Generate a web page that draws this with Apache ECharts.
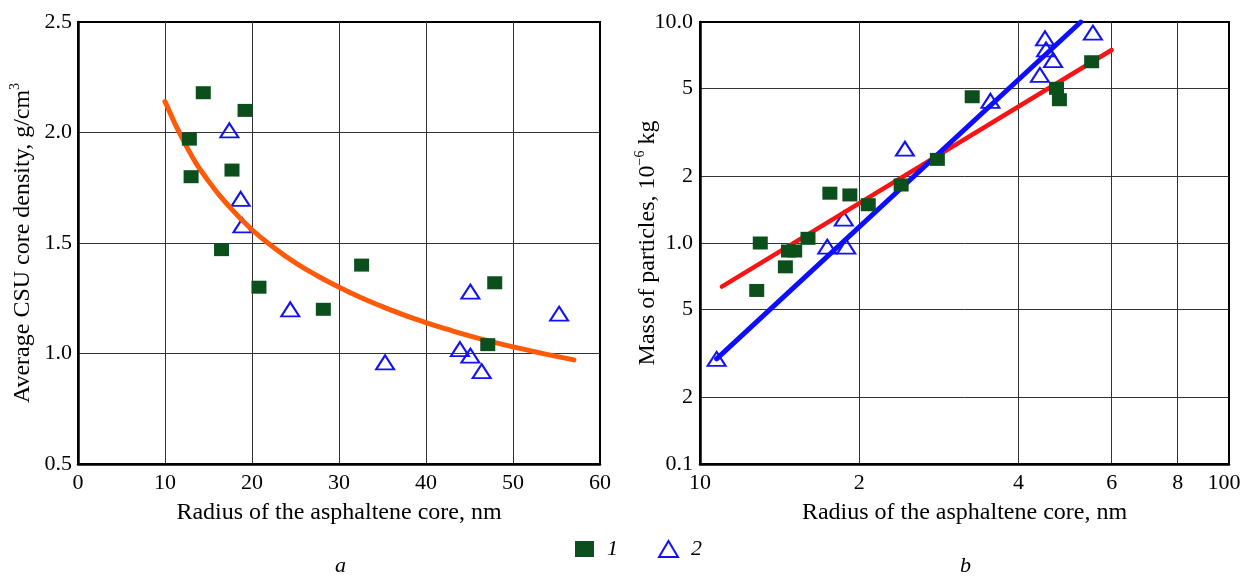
<!DOCTYPE html>
<html>
<head>
<meta charset="utf-8">
<title>CSU core density and particle mass vs asphaltene core radius</title>
<script src="https://cdn.jsdelivr.net/npm/echarts@6/dist/echarts.min.js"></script>
<style>
html, body { margin: 0; padding: 0; background: #fff; }
#chart { width: 1242px; height: 577px; }
</style>
</head>
<body>
<div id="chart"></div>
<script>
// panel a: average CSU core density (g/cm3) vs radius of the asphaltene core (nm)
const densityType1 = [
    [14.4, 2.18], [19.2, 2.10], [12.8, 1.97], [13.0, 1.80], [17.7, 1.83],
    [16.5, 1.47], [32.6, 1.40], [20.8, 1.30], [47.9, 1.32], [28.2, 1.20], [47.1, 1.04]
];
const densityType2 = [
    [17.4, 2.01], [18.7, 1.70], [18.9, 1.58], [45.1, 1.28], [24.4, 1.20],
    [35.3, 0.96], [43.9, 1.02], [45.1, 0.99], [46.4, 0.92], [55.3, 1.18]
];
// points
const densityFit = [
    [10, 2.14], [12.5, 1.935], [15, 1.78], [17.5, 1.66], [20, 1.56], [22.5, 1.48],
    [25, 1.41], [27.5, 1.352], [30, 1.30], [32.5, 1.253], [35, 1.212], [37.5, 1.174],
    [40, 1.14], [42.5, 1.109], [45, 1.08], [47.5, 1.054], [50, 1.03], [52.5, 1.008],
    [55, 0.987], [57, 0.971]
];

// panel b: mass of particles (1e-6 kg) vs radius, log-log
const massType1 = [
    [1.30, 1.00], [1.28, 0.61], [1.45, 0.78], [1.47, 0.92], [1.51, 0.92],
    [1.60, 1.05], [1.76, 1.68], [1.92, 1.65], [2.08, 1.49], [2.40, 1.83],
    [2.81, 2.39], [3.27, 4.59], [4.72, 5.01], [4.78, 4.45], [5.50, 6.61]
];
const massType2 = [
    [4.49, 8.44], [4.51, 7.52], [4.65, 6.73], [4.39, 5.76], [5.53, 8.95],
    [3.54, 4.40], [2.44, 2.67], [1.87, 1.29], [1.74, 0.962], [1.89, 0.962], [1.075, 0.299]
];
const massFit1 = [[1.10, 0.635], [6.0, 7.47]];
const massFit2 = [[1.075, 0.299], [5.245, 10.0]];

const massTicks = [0.1, 0.2, 0.5, 1, 2, 5, 10];
const massTickLabels = ['0.1', '2', '5', '1.0', '2', '5', '10.0'];
const radiusTicksB = [1, 2, 4, 6, 8, 10];
const radiusTickLabelsB = ['10', '2', '4', '6', '8', '{end|100}'];

const serif = 'Liberation Serif';
const green = '#0a4f1c';
const blue = '#1212f5';

function lookup(ticks, labels) {
    return function (v) {
        for (let i = 0; i < ticks.length; i++) {
            if (Math.abs(v - ticks[i]) < ticks[i] * 1e-6) return labels[i];
        }
        return '';
    };
}

const tickText = { fontFamily: serif, fontSize: 22, color: '#000' };
const nameText = {
    fontFamily: serif, fontSize: 24, color: '#000',
    rich: {
        t: { fontFamily: serif, fontSize: 24, color: '#000', lineHeight: 30 },
        sup: { fontFamily: serif, fontSize: 14, color: '#000', lineHeight: 16, verticalAlign: 'top' }
    }
};
const splitLine = { show: true, showMinLine: false, showMaxLine: false, lineStyle: { color: '#333', width: 1 } };
const axisLine = { show: true, lineStyle: { color: '#000', width: 2.5 } };
const triangleStyle = { color: 'rgba(0,0,0,0)', borderColor: blue, borderWidth: 2, opacity: 1 };
const squareStyle = { color: green, opacity: 1 };

const chart = echarts.init(document.getElementById('chart'));
const option = {
    animation: false,
    textStyle: { fontFamily: serif },
    title: [
        { text: 'a', left: 335, top: 555, padding: 0,
          textStyle: { fontFamily: serif, fontStyle: 'italic', fontWeight: 'normal', fontSize: 22, color: '#000' } },
        { text: 'b', left: 960, top: 555, padding: 0,
          textStyle: { fontFamily: serif, fontStyle: 'italic', fontWeight: 'normal', fontSize: 22, color: '#000' } }
    ],
    legend: {
        left: 575, top: 538, padding: 0,
        itemWidth: 19, itemHeight: 16, itemGap: 40,
        textStyle: { fontFamily: serif, fontStyle: 'italic', fontSize: 22, color: '#000', padding: [0, 0, 0, 8] },
        data: [
            { name: '1', icon: 'rect', itemStyle: { color: green, opacity: 1 } },
            { name: '2', icon: 'triangle', itemStyle: triangleStyle }
        ]
    },
    grid: [
        { left: 78, top: 22, width: 522, height: 442, outerBoundsMode: 'none',
          show: true, borderColor: '#000', borderWidth: 2 },
        { left: 700, top: 22, width: 529, height: 442, outerBoundsMode: 'none',
          show: true, borderColor: '#000', borderWidth: 2 }
    ],
    xAxis: [
        {
            type: 'value', gridIndex: 0, min: 0, max: 60, interval: 10,
            axisLine: axisLine, axisTick: { show: false }, splitLine: splitLine,
            axisLabel: Object.assign({ margin: 8 }, tickText),
            name: 'Radius of the asphaltene core, nm', nameLocation: 'middle', nameGap: 37,
            nameMoveOverlap: false, nameTextStyle: nameText
        },
        {
            type: 'log', logBase: 10, gridIndex: 1, min: 1, max: 10,
            axisLine: axisLine, axisTick: { show: false, customValues: radiusTicksB }, splitLine: splitLine,
            axisLabel: Object.assign({ margin: 8, customValues: radiusTicksB,
                formatter: lookup(radiusTicksB, radiusTickLabelsB),
                rich: { end: { fontFamily: serif, fontSize: 22, color: '#000', padding: [0, 10, 0, 0] } } }, tickText),
            name: 'Radius of the asphaltene core, nm', nameLocation: 'middle', nameGap: 37,
            nameMoveOverlap: false, nameTextStyle: nameText
        }
    ],
    yAxis: [
        {
            type: 'value', gridIndex: 0, min: 0.5, max: 2.5, interval: 0.5,
            axisLine: axisLine, axisTick: { show: false }, splitLine: splitLine,
            axisLabel: Object.assign({ margin: 6, formatter: v => v.toFixed(1) }, tickText),
            name: '{t|Average CSU core density, g/cm}{sup|3}', nameLocation: 'middle', nameGap: 40,
            nameMoveOverlap: false, nameTextStyle: nameText
        },
        {
            type: 'log', logBase: 10, gridIndex: 1, min: 0.1, max: 10,
            axisLine: axisLine, axisTick: { show: false, customValues: massTicks }, splitLine: splitLine,
            axisLabel: Object.assign({ margin: 7, customValues: massTicks,
                formatter: lookup(massTicks, massTickLabels) }, tickText),
            name: '{t|Mass of particles, 10}{sup|\u22126}{t| kg}', nameLocation: 'middle', nameGap: 37,
            nameMoveOverlap: false, nameTextStyle: nameText
        }
    ],
    series: [
        {
            name: '2', type: 'scatter', xAxisIndex: 0, yAxisIndex: 0, data: densityType2,
            symbol: 'triangle', symbolSize: [18, 14], z: 2, itemStyle: triangleStyle
        },
        {
            name: 'fit a', type: 'line', xAxisIndex: 0, yAxisIndex: 0, data: densityFit,
            smooth: true, showSymbol: false, symbol: 'none', z: 3,
            lineStyle: { color: '#ff5a0a', width: 5, cap: 'round' }
        },
        {
            name: '1', type: 'scatter', xAxisIndex: 0, yAxisIndex: 0, data: densityType1,
            symbol: 'rect', symbolSize: [15, 13], z: 4, itemStyle: squareStyle
        },
        {
            name: '2', type: 'scatter', xAxisIndex: 1, yAxisIndex: 1, data: massType2,
            symbol: 'triangle', symbolSize: [18, 14], z: 2, itemStyle: triangleStyle
        },
        {
            name: 'fit b1', type: 'line', xAxisIndex: 1, yAxisIndex: 1, data: massFit1,
            showSymbol: false, symbol: 'none', z: 3,
            lineStyle: { color: '#f81414', width: 4.5, cap: 'round' }
        },
        {
            name: 'fit b2', type: 'line', xAxisIndex: 1, yAxisIndex: 1, data: massFit2,
            showSymbol: false, symbol: 'none', z: 3,
            lineStyle: { color: '#0d0dff', width: 5, cap: 'round' }
        },
        {
            name: '1', type: 'scatter', xAxisIndex: 1, yAxisIndex: 1, data: massType1,
            symbol: 'rect', symbolSize: [15, 13], z: 4, itemStyle: squareStyle
        }
    ]
};
chart.setOption(option);
</script>
</body>
</html>
